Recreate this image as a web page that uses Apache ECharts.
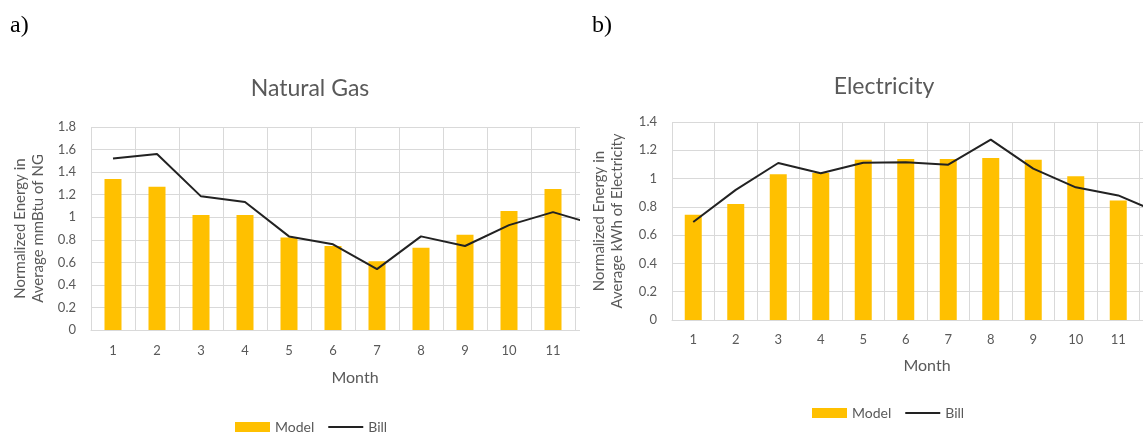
<!DOCTYPE html>
<html>
<head>
<meta charset="utf-8">
<script src="https://cdn.jsdelivr.net/npm/echarts@6/dist/echarts.min.js"></script>
<style>
  html, body { margin: 0; padding: 0; background: #ffffff; }
  .wrap { position: absolute; top: 0; height: 436px; overflow: hidden; }
  .chart { width: 640px; height: 436px; }
</style>
</head>
<body>
<div class="wrap" style="left:0;width:580px;"><div id="gas" class="chart"></div></div>
<div class="wrap" style="left:580px;width:563px;"><div id="elec" class="chart"></div></div>
<script>
// ---- data ----
const months = ['1', '2', '3', '4', '5', '6', '7', '8', '9', '10', '11', '12'];
const gasModel = [1.34, 1.27, 1.02, 1.02, 0.82, 0.745, 0.61, 0.73, 0.845, 1.055, 1.25, null];
const gasBill  = [1.52, 1.56, 1.185, 1.135, 0.83, 0.76, 0.54, 0.83, 0.745, 0.93, 1.045, 0.93];
const elecModel = [0.745, 0.82, 1.03, 1.04, 1.133, 1.138, 1.138, 1.145, 1.133, 1.016, 0.845, null];
const elecBill  = [0.693, 0.92, 1.11, 1.037, 1.112, 1.115, 1.098, 1.275, 1.07, 0.938, 0.881, 0.753];
const gasTicks = { min: 0, max: 1.8, interval: 0.2 };
const elecTicks = { min: 0, max: 1.4, interval: 0.2 };

const FONT = 'Lato, "Open Sans", sans-serif';
const GREY = '#595959';
const GRID = '#d9d9d9';
const LINE = '#222222';

function makeOption(c) {
  return {
    animation: false,
    backgroundColor: '#ffffff',
    textStyle: { fontFamily: FONT },
    graphic: [
      { type: 'text', x: c.panelX, y: 26, style: { text: c.panel, font: '24px "Liberation Serif", "DejaVu Serif", serif', fill: '#000', textVerticalAlign: 'middle' } },
      { type: 'text', x: c.titleX, y: c.titleY, style: { text: c.title, font: '23px ' + FONT, fill: GREY, textAlign: 'center', textVerticalAlign: 'middle' } }
    ],
    legend: {
      left: c.legendLeft, top: c.legendTop,
      itemWidth: 35, itemHeight: 10, itemGap: 14,
      textStyle: { color: GREY, fontSize: 14, fontFamily: FONT },
      data: [
        { name: 'Model', icon: 'rect' },
        { name: 'Bill', icon: 'path://M0,0 L35,0 L35,2 L0,2 Z' }
      ]
    },
    grid: { left: c.grid.left, top: c.grid.top, width: c.grid.width, height: c.grid.height, containLabel: false },
    xAxis: {
      type: 'category', data: months, boundaryGap: true,
      name: 'Month', nameLocation: 'middle', nameGap: c.monthGap,
      nameTextStyle: { color: GREY, fontSize: 16, fontFamily: FONT },
      axisLine: { lineStyle: { color: GRID, width: 1 } },
      axisTick: { show: false },
      axisLabel: { color: GREY, fontSize: 13, margin: c.xLabelMargin, fontFamily: FONT },
      splitLine: { show: true, lineStyle: { color: GRID, width: 1 } }
    },
    yAxis: {
      type: 'value', min: c.ticks.min, max: c.ticks.max, interval: c.ticks.interval,
      name: c.yName, nameLocation: 'middle', nameGap: c.yNameGap, nameRotate: 90,
      nameTextStyle: { color: GREY, fontSize: 15, lineHeight: 18, fontFamily: FONT, align: 'center' },
      axisLine: { show: false }, axisTick: { show: false },
      axisLabel: { color: GREY, fontSize: 13, margin: 15, fontFamily: FONT },
      splitLine: { show: true, lineStyle: { color: GRID, width: 1 } }
    },
    series: [
      { name: 'Model', type: 'bar', data: c.model, barWidth: 17, itemStyle: { color: '#FFC000' } },
      { name: 'Bill', type: 'line', data: c.bill, symbol: 'none', lineStyle: { color: LINE, width: 2 }, itemStyle: { color: LINE } }
    ]
  };
}

const gasChart = echarts.init(document.getElementById('gas'), null, { renderer: 'canvas', width: 640, height: 436 });
gasChart.setOption(makeOption({
  panel: 'a)', panelX: 10, title: 'Natural Gas', titleX: 310, titleY: 89,
  legendLeft: 230, legendTop: 415,
  grid: { left: 91, top: 127, width: 528, height: 203 },
  monthGap: 40, xLabelMargin: 14,
  ticks: gasTicks,
  yName: 'Normalized Energy in\nAverage mmBtu of NG', yNameGap: 44,
  model: gasModel, bill: gasBill
}));

const elecChart = echarts.init(document.getElementById('elec'), null, { renderer: 'canvas', width: 640, height: 436 });
elecChart.setOption(makeOption({
  panel: 'b)', panelX: 12, title: 'Electricity', titleX: 304, titleY: 87,
  legendLeft: 227, legendTop: 401,
  grid: { left: 92, top: 122, width: 510, height: 198 },
  monthGap: 38, xLabelMargin: 13,
  ticks: elecTicks,
  yName: 'Normalized Energy in\nAverage kWh of Electricity', yNameGap: 46,
  model: elecModel, bill: elecBill
}));
</script>
</body>
</html>
